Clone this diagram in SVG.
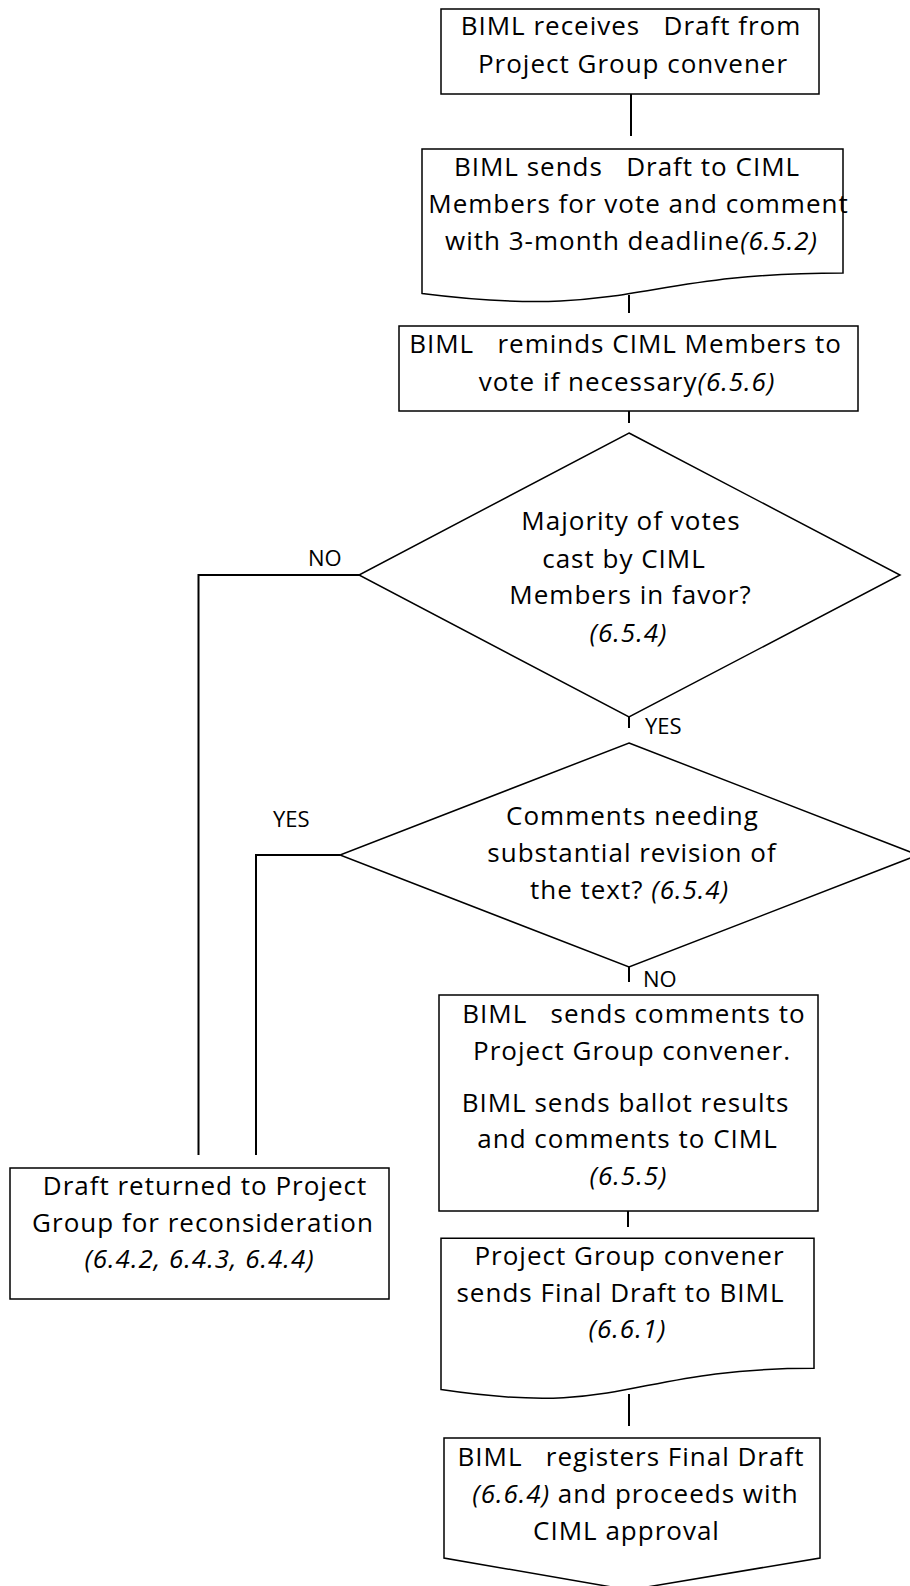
<svg xmlns="http://www.w3.org/2000/svg" width="910" height="1586" viewBox="0 0 910 1586">
<style>
  .shape { fill: #ffffff; stroke: #000000; stroke-width: 1.5; }
  .conn { fill: none; stroke: #000000; stroke-width: 2; }
  .t { font-family: "Open Sans", "Liberation Sans", sans-serif; font-size: 26px; letter-spacing: 1px; text-anchor: middle; fill: #000000; }
  .lbl { font-family: "Open Sans", "Liberation Sans", sans-serif; font-size: 22px; fill: #000000; }
  .i { font-style: italic; }
</style>
<rect x="0" y="0" width="910" height="1586" fill="#ffffff"/>

<g id="connectors">
  <line class="conn" x1="631" y1="94" x2="631" y2="136"/>
  <line class="conn" x1="629" y1="295" x2="629" y2="313"/>
  <line class="conn" x1="629" y1="411" x2="629" y2="423"/>
  <line class="conn" x1="629" y1="717" x2="629" y2="728"/>
  <line class="conn" x1="629" y1="967" x2="629" y2="982"/>
  <line class="conn" x1="628" y1="1211" x2="628" y2="1227"/>
  <line class="conn" x1="629" y1="1394" x2="629" y2="1426"/>
  <polyline class="conn" points="359,575 198.5,575 198.5,1155"/>
  <polyline class="conn" points="340,855 256,855 256,1155"/>
  <text class="lbl" x="308" y="566">NO</text>
  <text class="lbl" x="645" y="734">YES</text>
  <text class="lbl" x="273" y="827">YES</text>
  <text class="lbl" x="643" y="987">NO</text>
</g>

<g id="n1">
  <rect class="shape" x="441" y="9" width="378" height="85"/>
  <text class="t" x="631" y="35" xml:space="preserve">BIML receives   Draft from</text>
  <text class="t" x="633" y="73">Project Group convener</text>
</g>

<g id="n2">
  <path class="shape" d="M422,149 H843 V273 C632.5,273 632.5,320 422,293.4 Z"/>
  <text class="t" x="627" y="176" xml:space="preserve">BIML sends   Draft to CIML</text>
  <text class="t" x="638.5" y="213">Members for vote and comment</text>
  <text class="t" x="631.5" y="250">with 3-month deadline<tspan class="i">(6.5.2)</tspan></text>
</g>

<g id="n3">
  <rect class="shape" x="399" y="326" width="459" height="85"/>
  <text class="t" x="625.5" y="353" xml:space="preserve">BIML   reminds CIML Members to</text>
  <text class="t" x="627" y="391">vote if necessary<tspan class="i">(6.5.6)</tspan></text>
</g>

<g id="d1">
  <polygon class="shape" points="629,433 900,575 629,717 359,575"/>
  <text class="t" x="631" y="530">Majority of votes</text>
  <text class="t" x="624" y="568">cast by CIML</text>
  <text class="t" x="630.5" y="604">Members in favor?</text>
  <text class="t i" x="628.5" y="642">(6.5.4)</text>
</g>

<g id="d2">
  <polygon class="shape" points="629,743 918,855 629,967 340,855"/>
  <text class="t" x="632.5" y="825">Comments needing</text>
  <text class="t" x="632" y="862">substantial revision of</text>
  <text class="t" x="629.5" y="899">the text? <tspan class="i">(6.5.4)</tspan></text>
</g>

<g id="n4">
  <rect class="shape" x="10" y="1168" width="379" height="131"/>
  <text class="t" x="205" y="1195">Draft returned to Project</text>
  <text class="t" x="203" y="1232">Group for reconsideration</text>
  <text class="t i" x="199.5" y="1268">(6.4.2, 6.4.3, 6.4.4)</text>
</g>

<g id="n5">
  <rect class="shape" x="439" y="995" width="379" height="216"/>
  <text class="t" x="634" y="1023" xml:space="preserve">BIML   sends comments to</text>
  <text class="t" x="632" y="1060">Project Group convener.</text>
  <text class="t" x="625.5" y="1112">BIML sends ballot results</text>
  <text class="t" x="627.5" y="1148">and comments to CIML</text>
  <text class="t i" x="628.5" y="1185">(6.5.5)</text>
</g>

<g id="n6">
  <path class="shape" d="M441,1238.3 H814 V1368.3 C627.5,1368.3 627.5,1417.6 441,1389.6 Z"/>
  <text class="t" x="629.5" y="1265">Project Group convener</text>
  <text class="t" x="620.5" y="1302">sends Final Draft to BIML</text>
  <text class="t i" x="627.5" y="1338">(6.6.1)</text>
</g>

<g id="n7">
  <polygon class="shape" points="444,1438 820,1438 820,1558 629,1590 444,1558"/>
  <text class="t" x="631" y="1466" xml:space="preserve">BIML   registers Final Draft</text>
  <text class="t" x="635.5" y="1503"><tspan class="i">(6.6.4)</tspan> and proceeds with</text>
  <text class="t" x="626.5" y="1540">CIML approval</text>
</g>
</svg>
